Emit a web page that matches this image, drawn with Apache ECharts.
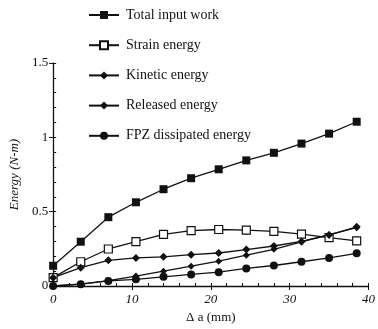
<!DOCTYPE html>
<html>
<head>
<meta charset="utf-8">
<script src="https://cdn.jsdelivr.net/npm/echarts@6/dist/echarts.min.js"></script>
<style>
  html, body { margin: 0; padding: 0; background: #fff; }
  #chart { width: 378px; height: 329px; }
</style>
</head>
<body>
<div id="chart"></div>
<script>
// Crack extension (mm) at each measurement
const crackExt = [0, 3.5, 7, 10.5, 14, 17.5, 21, 24.5, 28, 31.5, 35, 38.5];

// Energy components (N-m)
const totalInputWork = [0.136, 0.298, 0.463, 0.563, 0.651, 0.725, 0.785, 0.845, 0.896, 0.958, 1.025, 1.105];
const strainEnergy   = [0.056, 0.163, 0.249, 0.298, 0.347, 0.373, 0.380, 0.376, 0.367, 0.349, 0.325, 0.303];
const kineticEnergy  = [0.056, 0.123, 0.173, 0.189, 0.196, 0.211, 0.222, 0.245, 0.269, 0.300, 0.343, 0.398];
const releasedEnergy = [0.000, 0.013, 0.036, 0.067, 0.100, 0.133, 0.167, 0.207, 0.247, 0.296, 0.345, 0.392];
const fpzEnergy      = [0.000, 0.012, 0.034, 0.045, 0.062, 0.078, 0.093, 0.118, 0.138, 0.163, 0.189, 0.220];

const seriesNames = ['Total input work', 'Strain energy', 'Kinetic energy', 'Released energy', 'FPZ dissipated energy'];

const xTicks = [0, 10, 20, 30, 40];
const yTicks = [0, 0.5, 1, 1.5];

const serif = '"Liberation Serif", "DejaVu Serif", serif';
const ink = '#111';

function pairs(vals) {
  return crackExt.map((x, i) => [x, vals[i]]);
}

function lineSeries(name, vals, symbol, size, fill) {
  return {
    name: name,
    type: 'line',
    data: pairs(vals),
    symbol: symbol,
    symbolSize: size,
    showAllSymbol: true,
    lineStyle: { color: ink, width: 1.3 },
    itemStyle: { color: fill, borderColor: ink, borderWidth: fill === '#fff' ? 1.2 : 0 },
    emphasis: { disabled: true },
    z: 3
  };
}

// Plain axis used only to draw the small inward ticks
function innerTickAxis(extra) {
  return Object.assign({
    type: 'value',
    axisLine: { show: false },
    axisTick: { show: true, inside: true, length: 3, lineStyle: { color: ink } },
    axisLabel: { show: false },
    splitLine: { show: false }
  }, extra);
}

const chart = echarts.init(document.getElementById('chart'), null, { renderer: 'canvas' });

chart.setOption({
  animation: false,
  backgroundColor: '#fff',
  legend: {
    orient: 'vertical',
    left: 83,
    top: 3,
    itemWidth: 30,
    itemHeight: 10,
    itemGap: 16.2,
    data: seriesNames,
    textStyle: { fontFamily: serif, fontSize: 14, color: ink, padding: [0, 0, 0, 2] }
  },
  grid: { left: 48, right: 7, top: 63, bottom: 41, containLabel: false },
  xAxis: [{
    type: 'value',
    min: 0,
    max: 40,
    interval: 10,
    name: 'Δ a (mm)',
    nameLocation: 'middle',
    nameGap: 25,
    nameTextStyle: { fontFamily: serif, fontSize: 13, color: ink },
    axisLine: { show: true, lineStyle: { color: ink, width: 1.3 } },
    axisTick: { show: true, inside: false, length: 4, lineStyle: { color: ink } },
    axisLabel: {
      fontFamily: serif, fontSize: 13, fontStyle: 'italic', color: ink, margin: 7,
      formatter: v => (xTicks.includes(v) ? String(v) : '')
    },
    splitLine: { show: false }
  }, innerTickAxis({ min: 0, max: 40, interval: 2, position: 'bottom' })],
  yAxis: [{
    type: 'value',
    min: 0,
    max: 1.5,
    interval: 0.5,
    name: 'Energy (N-m)',
    nameLocation: 'middle',
    nameGap: 32,
    nameTextStyle: { fontFamily: serif, fontSize: 13, fontStyle: 'italic', color: ink },
    axisLine: { show: true, lineStyle: { color: ink, width: 1.3 } },
    axisTick: { show: true, inside: false, length: 4, lineStyle: { color: ink } },
    axisLabel: {
      fontFamily: serif, fontSize: 13, color: ink, margin: 5,
      formatter: v => (yTicks.includes(v) ? String(v) : '')
    },
    splitLine: { show: false }
  }, innerTickAxis({ min: 0, max: 1.5, interval: 0.1, position: 'left' })],
  series: [
    lineSeries(seriesNames[0], totalInputWork, 'rect', 8, ink),
    lineSeries(seriesNames[1], strainEnergy, 'rect', 8, '#fff'),
    lineSeries(seriesNames[2], kineticEnergy, 'diamond', 8, ink),
    lineSeries(seriesNames[3], releasedEnergy, 'diamond', 7, ink),
    lineSeries(seriesNames[4], fpzEnergy, 'circle', 8, ink)
  ]
});
</script>
</body>
</html>
